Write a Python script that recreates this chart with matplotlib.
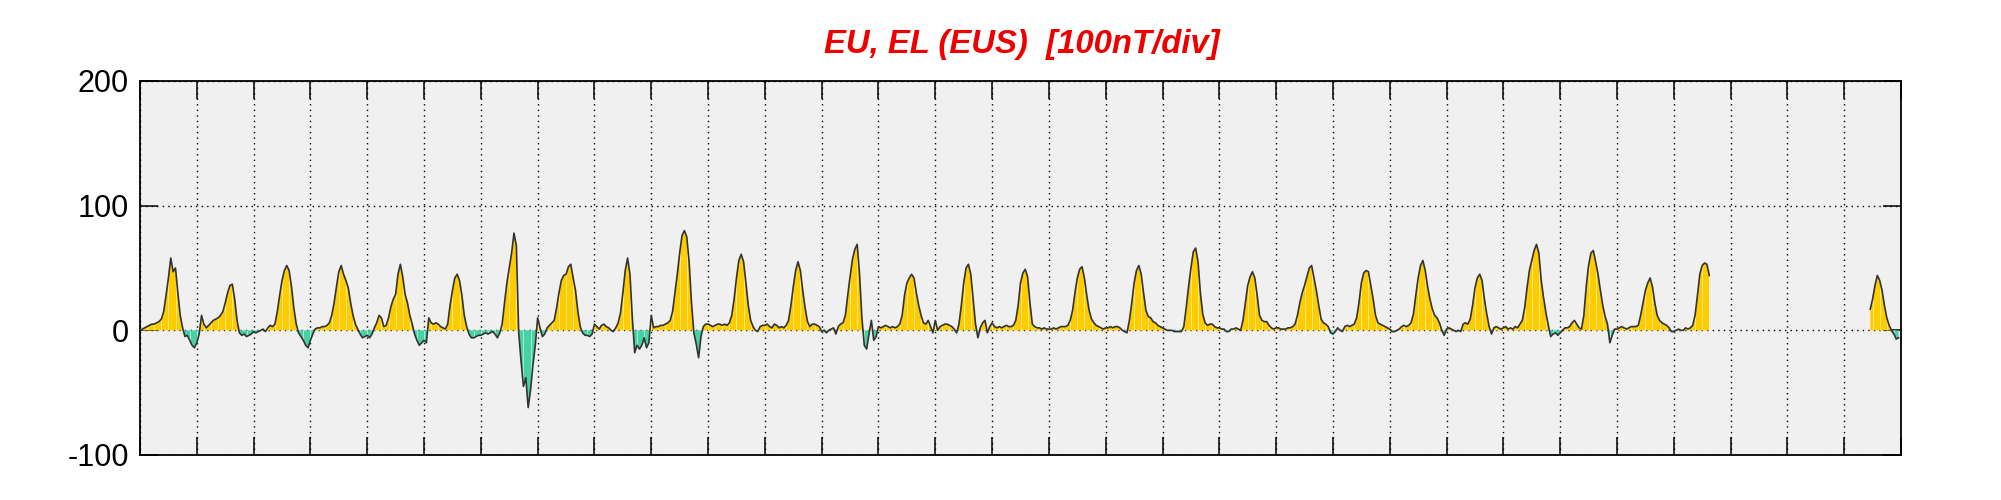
import numpy as np
import matplotlib
matplotlib.use("Agg")
import matplotlib.pyplot as plt

# Hourly values (nT), one list per day (24 values each)
N = np.nan
day00 = [0, 1, 2, 3, 4, 5, 5, 6, 7, 9, 15, 28, 42, 58, 47, 50, 30, 12, 2, -5, -4, -8, -12, -14]
day01 = [-10, -3, 12, 5, 2, 4, 6, 8, 9, 10, 12, 15, 22, 30, 36, 37, 25, 8, -2, -4, -3, -5, -4, -3]
day02 = [-1, -2, -1, 0, 1, -1, 2, 4, 3, 5, 15, 28, 40, 48, 52, 48, 35, 18, 5, -2, -5, -8, -12, -14]
day03 = [-8, -3, 1, 2, 2, 3, 3, 4, 6, 12, 22, 35, 47, 52, 45, 40, 34, 22, 12, 5, 1, -3, -6, -5]
day04 = [-4, -6, -3, 2, 6, 12, 10, 3, 4, 10, 19, 25, 29, 45, 53, 43, 29, 22, 12, 5, -3, -8, -12, -10]
day05 = [-8, -10, 10, 6, 5, 6, 5, 3, 2, 1, 5, 20, 32, 42, 45, 40, 28, 12, 3, -3, -6, -6, -5, -4]
day06 = [-4, -3, -2, -3, -2, -1, -3, -6, -2, 5, 22, 38, 50, 62, 78, 68, -2, -25, -45, -38, -62, -48, -28, -12]
day07 = [10, 2, -5, -3, 2, 4, 6, 8, 18, 30, 40, 44, 45, 51, 53, 42, 32, 15, 3, -2, -4, -4, -5, -3]
day08 = [5, 3, 1, 4, 5, 3, 2, 0, -1, 2, 6, 14, 30, 48, 58, 45, 10, -18, -12, -15, -12, -6, -14, -10]
day09 = [12, 2, 3, 3, 4, 4, 5, 6, 8, 15, 30, 45, 62, 76, 80, 75, 55, 22, -2, -11, -22, -5, 3, 5]
day10 = [5, 4, 3, 4, 5, 5, 4, 5, 4, 6, 12, 25, 42, 56, 61, 55, 38, 20, 8, 3, 0, -1, 3, 4]
day11 = [4, 5, 3, 2, 5, 4, 2, 3, 2, 4, 8, 20, 35, 48, 55, 48, 32, 18, 7, 3, 5, 5, 4, 3]
day12 = [-1, 0, -2, 0, 1, 2, -3, 3, 5, 6, 12, 28, 43, 57, 65, 69, 45, 10, -12, -15, -3, 8, -8, -5]
day13 = [3, 2, 3, 4, 3, 2, 3, 2, 3, 5, 12, 28, 38, 42, 45, 42, 30, 20, 12, 6, 5, 8, 3, -2]
day14 = [8, 0, 3, 4, 5, 5, 4, 3, 1, -2, 5, 20, 38, 50, 53, 45, 25, 5, -6, 2, 6, 8, -2, 3]
day15 = [6, 3, 2, 3, 2, 3, 4, 3, 3, 4, 8, 20, 38, 46, 49, 43, 22, 5, 3, 2, 2, 1, 2, 1]
day16 = [1, 1, 2, 1, 2, 3, 3, 3, 4, 8, 16, 30, 42, 49, 51, 42, 28, 16, 9, 6, 4, 3, 2, 1]
day17 = [2, 2, 3, 2, 3, 3, 2, 0, -1, -2, 8, 22, 38, 48, 52, 45, 30, 16, 11, 10, 7, 6, 4, 3]
day18 = [2, 1, 0, 0, 0, -1, -1, -1, -1, 3, 18, 35, 50, 63, 66, 55, 30, 13, 6, 4, 5, 5, 3, 2]
day19 = [2, 1, 1, -1, -1, 1, 1, 2, 1, 0, 8, 22, 36, 43, 47, 42, 28, 12, 8, 7, 7, 4, 2, 1]
day20 = [2, 2, 1, 1, 1, 2, 2, 3, 5, 12, 22, 30, 36, 43, 50, 52, 42, 32, 20, 9, 6, 5, 3, -2]
day21 = [-3, -1, 2, 0, -1, 3, 4, 3, 4, 5, 10, 22, 38, 46, 48, 47, 36, 25, 12, 6, 5, 4, 3, 2]
day22 = [1, -1, -1, 0, 1, 3, 4, 3, 4, 6, 13, 28, 42, 52, 56, 48, 35, 25, 17, 12, 10, 6, 0, -4]
day23 = [1, 2, 1, 0, -1, 0, -1, 5, 6, 5, 9, 20, 34, 42, 45, 40, 25, 13, 3, -3, 2, 3, 2, 1]
day24 = [2, 3, 1, 2, 1, 3, 2, 5, 8, 18, 34, 48, 56, 64, 69, 62, 40, 26, 14, 4, -5, -3, -2, -4]
day25 = [-2, 0, 2, 2, 3, 6, 8, 5, 2, 1, 12, 35, 52, 62, 64, 55, 45, 32, 20, 11, 5, -10, -4, 1]
day26 = [1, 2, 3, 2, 1, 2, 3, 3, 3, 4, 12, 22, 32, 38, 42, 35, 22, 12, 8, 6, 5, 4, 2, -1]
day27 = [-1, 0, 1, 0, 0, 2, 1, 2, 4, 12, 28, 45, 52, 54, 53, 44, N, N, N, N, N, N, N, N]
day28 = [N] * 24
day29 = [N] * 24
day30 = [N, N, N, N, N, N, N, N, N, N, N, 17, 25, 36, 44, 40, 32, 20, 10, 4, 0, -3, -7, -6]

days = [day00, day01, day02, day03, day04, day05, day06, day07, day08, day09,
        day10, day11, day12, day13, day14, day15, day16, day17, day18, day19,
        day20, day21, day22, day23, day24, day25, day26, day27, day28, day29, day30]

title_text = "EU, EL (EUS)  [100nT/div]"
yticks = [-100, 0, 100, 200]
ytick_labels = ["-100", "0", "100", "200"]
n_days = 31

values = np.array([v for d in days for v in d], dtype=float)
t = np.arange(values.size) / 24.0

fig = plt.figure(figsize=(20.01, 5.00), dpi=100)
ax = fig.add_axes([140 / 2001, 1 - 455 / 500, 1761 / 2001, 374 / 500])
ax.set_facecolor("#F0F0F0")

yellow = "#FFCC00"
green = "#46D2A2"
ax.fill_between(t, 0, values, where=values >= 0, interpolate=True,
                color=yellow, linewidth=0, zorder=2)
ax.fill_between(t, 0, values, where=values <= 0, interpolate=True,
                color=green, linewidth=0, zorder=2)

# thin light seams in the fill every 3 hours
idx = np.arange(0, values.size, 3)
ok = ~np.isnan(values[idx])
ax.vlines(t[idx][ok], 0, values[idx][ok], colors="white", linewidth=0.5,
          alpha=0.75, zorder=3)

ax.plot(t, values, color="#333333", linewidth=1.2, zorder=4)

ax.set_xlim(0, n_days)
ax.set_ylim(-100, 200)
ax.set_xticks(np.arange(0, n_days + 1))
ax.set_xticklabels([])
ax.set_yticks(yticks)
ax.set_yticklabels(ytick_labels)

ax.grid(True, color="black", linestyle=(0, (1, 3)), linewidth=1.0, zorder=1)
ax.set_axisbelow(True)

ax.tick_params(axis="both", which="major", direction="in", length=13,
               width=1.1, top=True, right=True, color="black")
ax.tick_params(axis="y", labelsize=22, pad=8)
for lab in ax.get_yticklabels():
    lab.set_family(["Liberation Sans", "DejaVu Sans"])

for s in ax.spines.values():
    s.set_linewidth(1.3)
    s.set_color("black")

fig.text(0.5105, 0.912, title_text, color="#EE0000", fontsize=23.7,
         fontweight="bold", fontstyle="italic",
         family=["Liberation Sans", "DejaVu Sans"],
         ha="center", va="center")

fig.savefig("out.png", dpi=100, facecolor="white")
